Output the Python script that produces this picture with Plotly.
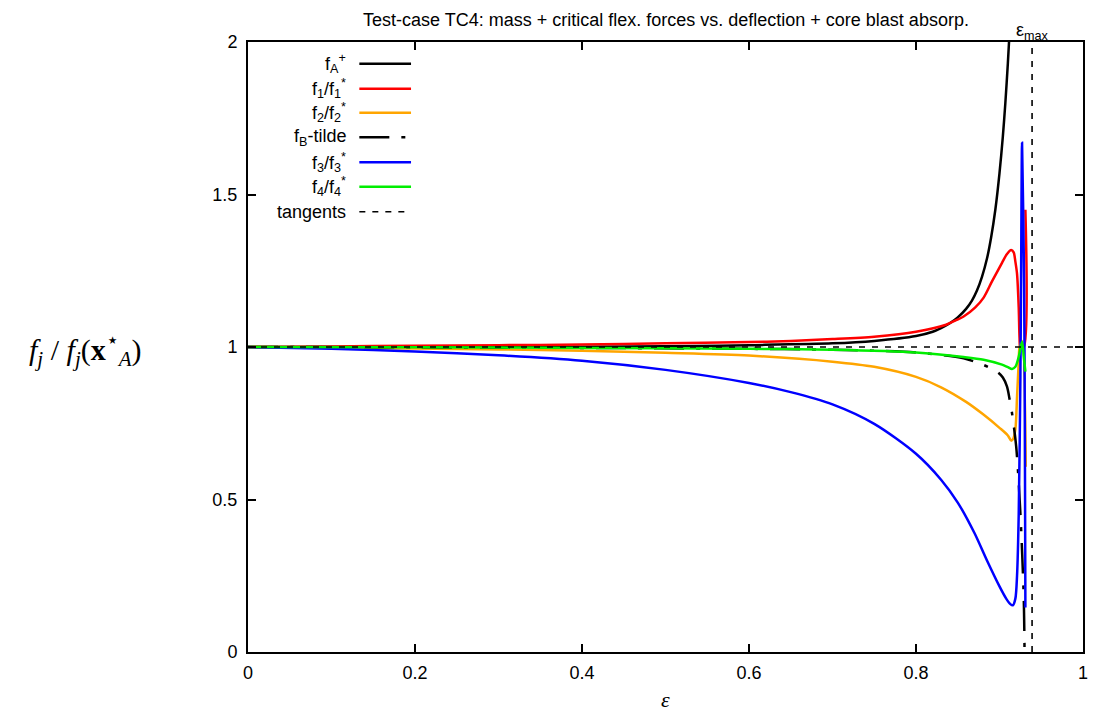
import plotly.graph_objects as go

# ---------------- data ----------------
eps_max = 0.939

fA_x = [0.0, 0.2, 0.4, 0.536, 0.6, 0.7, 0.75, 0.8, 0.82, 0.83, 0.84, 0.85, 0.86, 0.867,
        0.873, 0.879, 0.885, 0.89, 0.895, 0.9, 0.904, 0.907, 0.91, 0.913]
fA_y = [1.0, 1.0, 1.001, 1.003, 1.006, 1.012, 1.020, 1.036, 1.050, 1.062, 1.077, 1.097, 1.125,
        1.152, 1.185, 1.23, 1.29, 1.36, 1.45, 1.57, 1.69, 1.80, 1.93, 2.08]

f1_x = [0.0, 0.1, 0.2, 0.3, 0.4, 0.5, 0.6, 0.65, 0.7, 0.75, 0.8, 0.836, 0.848, 0.857,
        0.871, 0.881, 0.891, 0.903, 0.909, 0.914, 0.917, 0.919, 0.921, 0.923, 0.924, 0.925,
        0.929, 0.931]
f1_y = [1.0, 1.002, 1.004, 1.006, 1.008, 1.012, 1.016, 1.020, 1.026, 1.034, 1.050, 1.073,
        1.088, 1.100, 1.13, 1.162, 1.215, 1.276, 1.305, 1.318, 1.31, 1.28, 1.24, 1.13, 1.03,
        1.0, 1.0, 1.45]

f2_x = [0.0, 0.1, 0.2, 0.3, 0.4, 0.5, 0.6, 0.7, 0.75, 0.8, 0.83, 0.86, 0.88, 0.9, 0.91,
        0.914, 0.916, 0.919, 0.921, 0.923, 0.924, 0.927, 0.9315]
f2_y = [1.0, 0.997, 0.995, 0.992, 0.988, 0.981, 0.972, 0.952, 0.935, 0.902, 0.868, 0.820,
        0.780, 0.735, 0.710, 0.693, 0.697, 0.73, 0.837, 0.95, 1.0, 1.02, 0.607]

fB_x = [0.0, 0.2, 0.4, 0.6, 0.7, 0.8, 0.857, 0.881, 0.897, 0.904, 0.909, 0.912, 0.915,
        0.920, 0.925, 0.929, 0.930]
fB_y = [1.0, 0.999, 0.997, 0.994, 0.991, 0.982, 0.963, 0.941, 0.919, 0.900, 0.870, 0.83, 0.783,
        0.673, 0.455, 0.18, 0.0]

f3_x = [0.0, 0.1, 0.2, 0.3, 0.4, 0.5, 0.6, 0.65, 0.7, 0.75, 0.8, 0.83, 0.85, 0.87, 0.885,
        0.9, 0.908, 0.913, 0.916, 0.919, 0.921, 0.923, 0.925, 0.926, 0.927, 0.9295, 0.9305,
        0.931]
f3_y = [1.0, 0.994, 0.985, 0.973, 0.955, 0.925, 0.882, 0.852, 0.812, 0.748, 0.650, 0.565,
        0.49, 0.39, 0.30, 0.215, 0.175, 0.157, 0.153, 0.175, 0.25, 0.45, 0.9, 1.3, 1.67, 1.2,
        0.6, 0.146]

f4_x = [0.0, 0.2, 0.4, 0.6, 0.7, 0.8, 0.857, 0.881, 0.903, 0.91, 0.915, 0.919, 0.923, 0.927,
        0.929, 0.931]
f4_y = [1.0, 0.999, 0.997, 0.994, 0.991, 0.982, 0.967, 0.958, 0.942, 0.934, 0.928, 0.935, 0.968,
        1.017, 0.97, 0.919]

tan_x = [0.0, 1.0, None, eps_max, eps_max]
tan_y = [1.0, 1.0, None, 0.0, 2.0]

x_ticks = [0, 0.2, 0.4, 0.6, 0.8, 1]
x_tick_labels = ["0", "0.2", "0.4", "0.6", "0.8", "1"]
y_ticks = [0, 0.5, 1, 1.5, 2]
y_tick_labels = ["0", "0.5", "1", "1.5", "2"]

labels = ["f<sub>A</sub><sup>+</sup>", "f<sub>1</sub>/f<sub>1</sub><sup>*</sup>",
          "f<sub>2</sub>/f<sub>2</sub><sup>*</sup>", "f<sub>B</sub>-tilde",
          "f<sub>3</sub>/f<sub>3</sub><sup>*</sup>", "f<sub>4</sub>/f<sub>4</sub><sup>*</sup>",
          "tangents"]
title_text = "Test-case TC4: mass + critical flex. forces vs. deflection + core blast absorp."

# ---------------- styles ----------------
FONT = "Liberation Sans, Arial, sans-serif"
SERIF = "Liberation Serif, DejaVu Serif, serif"
colors = ["#000000", "#ff0000", "#ffa500", "#000000", "#0000ff", "#00ee00", "#000000"]
dashes = ["solid", "solid", "solid", "30px,12px,4px,12px", "solid", "solid", "6px,7px"]
widths = [2.5, 2.5, 2.5, 2.5, 2.5, 2.5, 1.6]
shapes_ = ["spline"] * 6 + ["linear"]

series = [(fA_x, fA_y), (f1_x, f1_y), (f2_x, f2_y), (fB_x, fB_y), (f3_x, f3_y), (f4_x, f4_y),
          (tan_x, tan_y)]

# page offset (body margin) and target plot box in page pixels
OFF = 8
W, H = 1101 - 2 * OFF, 722 - 2 * OFF
L, R, T, B = 248, 1088, 42, 652          # plot box in page pixels


def px(xp):
    return (xp - L) / (R - L)


def py(yp):
    return (B - yp) / (B - T)


fig = go.Figure()
for (xs, ys), c, d, w, lab, s in zip(series, colors, dashes, widths, labels, shapes_):
    fig.add_trace(go.Scatter(x=xs, y=ys, mode="lines", name=lab,
                             line=dict(color=c, dash=d, width=w, shape=s, smoothing=0.8),
                             showlegend=False))

annotations = []
shapes = []
row_y = [63.7, 88.7, 112.7, 137.3, 162.3, 186.7, 211.7]
for i, lab in enumerate(labels):
    annotations.append(dict(xref="paper", yref="paper", x=px(349), y=py(row_y[i]),
                            text=lab, showarrow=False, xanchor="right", yanchor="middle",
                            font=dict(family=FONT, size=18, color="black")))
    shapes.append(dict(type="line", xref="paper", yref="paper", x0=px(360), x1=px(412),
                       y0=py(row_y[i]), y1=py(row_y[i]),
                       line=dict(color=colors[i], width=widths[i], dash=dashes[i])))

annotations.append(dict(xref="paper", yref="paper", x=px(85), y=py(349),
                        text="<i>f<sub>j</sub></i> / <i>f<sub>j</sub></i>(<b>x</b><sup>⋆</sup><sub><i>A</i></sub>)",
                        showarrow=False, xanchor="center", yanchor="middle",
                        font=dict(family=SERIF, size=30, color="black")))
annotations.append(dict(xref="paper", yref="paper", x=px(668), y=py(H + OFF),
                        text="<i>ε</i>", showarrow=False, xanchor="center", yanchor="bottom",
                        font=dict(family=SERIF, size=22, color="black")))
annotations.append(dict(xref="x", yref="paper", x=eps_max, y=py(31),
                        text="ε<sub>max</sub>", showarrow=False, xanchor="center",
                        yanchor="middle", font=dict(family=FONT, size=18, color="black")))
annotations.append(dict(xref="paper", yref="paper", x=px(668), y=py(OFF),
                        text=title_text, showarrow=False, xanchor="center", yanchor="top",
                        font=dict(family=FONT, size=18, color="black")))

axis_common = dict(showline=True, linecolor="black", linewidth=2, mirror="ticks",
                   ticks="inside", ticklen=8, tickwidth=1.5, tickcolor="black",
                   showgrid=False, zeroline=False,
                   tickfont=dict(family=FONT, size=18, color="black"))

fig.update_layout(
    width=W, height=H,
    margin=dict(l=L - OFF, r=(W + OFF) - R, t=T - OFF, b=(H + OFF) - B, pad=0),
    paper_bgcolor="white", plot_bgcolor="white",
    xaxis=dict(range=[0, 1], tickvals=x_ticks, ticktext=x_tick_labels, ticklabelstandoff=3,
               **axis_common),
    yaxis=dict(range=[0, 2], tickvals=y_ticks, ticktext=y_tick_labels, ticklabelstandoff=5,
               **axis_common),
    annotations=annotations,
    shapes=shapes,
    showlegend=False,
)

fig.write_html("out.html")
